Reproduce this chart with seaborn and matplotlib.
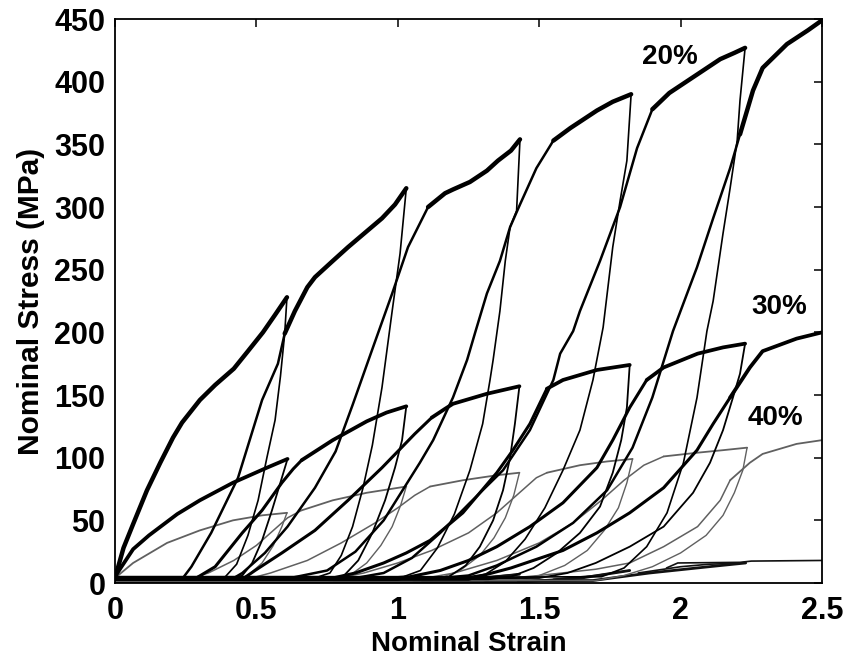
import matplotlib
matplotlib.use("Agg")
import matplotlib.pyplot as plt
import pandas as pd
import seaborn as sns

# Cyclic tensile tests: nominal strain vs nominal stress (MPa).
# Each branch is a list of (strain, stress) pairs.

# ---- 20 % filled sample ----
load_20 = [
    [(0, 5), (0.01, 12), (0.03, 28), (0.064, 47), (0.113, 74), (0.16, 96), (0.205, 116),
     (0.237, 128), (0.30, 146), (0.354, 158), (0.42, 171), (0.47, 185), (0.523, 200),
     (0.566, 214), (0.608, 228)],
    [(0.60, 199), (0.636, 217), (0.68, 236), (0.707, 244), (0.77, 257), (0.824, 268),
     (0.944, 291), (0.99, 302), (1.03, 315)],
    [(1.107, 300), (1.167, 311), (1.195, 314), (1.255, 320), (1.315, 329), (1.354, 337),
     (1.40, 345), (1.432, 354)],
    [(1.55, 353), (1.61, 363), (1.704, 377), (1.76, 384), (1.825, 390)],
    [(1.90, 378), (1.96, 391), (2.02, 400), (2.08, 409), (2.14, 418), (2.19, 423), (2.228, 427)],
    [(2.21, 358), (2.256, 393), (2.29, 411), (2.376, 430), (2.45, 441), (2.5, 449)],
]
unload_20 = [
    [(0.608, 228), (0.60, 199), (0.585, 165), (0.566, 130), (0.537, 100), (0.506, 66),
     (0.47, 38), (0.43, 15), (0.39, 5), (0.30, 4), (0.0, 4)],
    [(1.03, 315), (1.008, 263), (0.98, 217), (0.944, 156), (0.91, 110), (0.877, 76),
     (0.84, 45), (0.80, 22), (0.76, 8), (0.72, 5), (0.0, 5)],
    [(1.432, 354), (1.42, 297), (1.397, 284), (1.38, 257), (1.361, 217), (1.337, 178),
     (1.326, 162), (1.30, 127), (1.255, 90), (1.20, 55), (1.14, 28), (1.08, 10),
     (1.02, 5), (0.0, 5)],
    [(1.825, 390), (1.81, 337), (1.786, 305), (1.76, 268), (1.726, 204), (1.69, 162),
     (1.644, 122), (1.584, 90), (1.52, 60), (1.45, 35), (1.38, 17), (1.31, 7),
     (1.25, 5), (0.0, 5)],
    [(2.228, 427), (2.21, 385), (2.20, 353), (2.175, 315), (2.15, 279), (2.115, 225),
     (2.093, 201), (2.058, 148), (2.01, 96), (1.952, 56), (1.88, 29), (1.80, 12),
     (1.72, 5), (0.0, 4)],
]
reload_20 = [
    [(0.0, 4), (0.24, 4), (0.27, 13), (0.34, 40), (0.435, 84), (0.52, 146), (0.576, 175),
     (0.60, 199)],
    [(0.0, 4), (0.42, 4), (0.45, 8), (0.53, 24), (0.61, 45), (0.707, 76), (0.78, 105),
     (0.84, 142), (0.909, 186), (0.98, 231), (1.036, 268), (1.107, 300)],
    [(0.0, 4), (0.62, 4), (0.75, 10), (0.85, 25), (0.95, 50), (1.078, 96), (1.125, 114),
     (1.195, 148), (1.245, 178), (1.275, 201), (1.315, 231), (1.361, 257), (1.397, 284),
     (1.432, 302), (1.49, 331), (1.55, 353)],
    [(0.0, 4), (0.85, 4), (0.95, 8), (1.05, 20), (1.15, 40), (1.255, 64), (1.372, 90),
     (1.467, 122), (1.55, 162), (1.574, 183), (1.62, 201), (1.644, 217), (1.715, 257),
     (1.786, 300), (1.846, 347), (1.90, 378)],
    [(0.0, 4), (1.15, 4), (1.25, 6), (1.35, 14), (1.49, 29), (1.62, 48), (1.74, 74),
     (1.83, 108), (1.90, 148), (1.973, 201), (2.058, 252), (2.115, 291), (2.175, 331),
     (2.21, 358)],
]

# ---- 30 % filled sample ----
load_30 = [
    [(0, 5), (0.02, 12), (0.064, 27), (0.12, 38), (0.22, 55), (0.30, 66), (0.417, 80),
     (0.537, 92), (0.61, 99)],
    [(0.66, 98), (0.77, 114), (0.89, 129), (0.96, 136), (1.03, 141)],
    [(1.12, 132), (1.167, 139), (1.195, 143), (1.315, 151), (1.43, 157)],
    [(1.527, 155), (1.584, 162), (1.704, 170), (1.82, 174)],
    [(1.88, 162), (1.94, 172), (2.06, 183), (2.15, 188), (2.228, 191)],
    [(2.175, 148), (2.245, 172), (2.29, 185), (2.41, 195), (2.5, 200)],
]
unload_30 = [
    [(0.61, 99), (0.59, 84), (0.555, 58), (0.52, 34), (0.485, 16), (0.45, 6), (0.41, 3),
     (0.0, 3)],
    [(1.03, 141), (1.015, 114), (0.99, 92), (0.955, 66), (0.91, 40), (0.86, 18), (0.81, 6),
     (0.76, 3), (0.0, 3)],
    [(1.43, 157), (1.414, 127), (1.397, 100), (1.372, 74), (1.337, 50), (1.29, 29),
     (1.24, 14), (1.18, 5), (1.12, 3), (0.0, 3)],
    [(1.82, 174), (1.81, 140), (1.79, 114), (1.76, 88), (1.715, 61), (1.644, 40),
     (1.563, 24), (1.48, 12), (1.40, 5), (1.32, 3), (0.0, 3)],
    [(2.228, 191), (2.21, 167), (2.185, 148), (2.15, 122), (2.104, 96), (2.044, 72),
     (1.94, 45), (1.82, 29), (1.70, 16), (1.60, 8), (1.50, 4), (0.0, 3)],
]
reload_30 = [
    [(0.0, 3), (0.28, 3), (0.354, 13), (0.45, 40), (0.52, 58), (0.59, 80), (0.63, 91),
     (0.66, 98)],
    [(0.0, 3), (0.45, 3), (0.495, 10), (0.59, 24), (0.707, 42), (0.824, 66), (0.944, 92),
     (1.06, 119), (1.12, 132)],
    [(0.0, 3), (0.75, 3), (0.85, 8), (0.95, 16), (1.03, 24), (1.114, 34), (1.23, 56),
     (1.35, 88), (1.407, 106), (1.467, 127), (1.527, 155)],
    [(0.0, 3), (1.0, 3), (1.15, 10), (1.25, 18), (1.35, 29), (1.467, 45), (1.584, 64),
     (1.704, 92), (1.76, 114), (1.82, 140), (1.88, 162)],
    [(0.0, 3), (1.25, 3), (1.40, 12), (1.584, 26), (1.704, 40), (1.82, 56), (1.94, 76),
     (2.058, 106), (2.115, 127), (2.175, 148)],
]

# ---- 40 % filled sample ----
load_40 = [
    [(0, 4), (0.064, 16), (0.184, 32), (0.30, 42), (0.417, 50), (0.52, 54), (0.608, 56)],
    [(0.66, 58), (0.77, 66), (0.89, 72), (1.03, 77)],
    [(1.114, 77), (1.23, 82), (1.35, 86), (1.43, 88)],
    [(1.527, 88), (1.644, 94), (1.74, 97), (1.83, 99)],
    [(1.94, 101), (2.06, 104), (2.15, 106), (2.235, 108)],
    [(2.175, 82), (2.245, 96), (2.29, 103), (2.41, 111), (2.5, 114)],
]
unload_40 = [
    [(0.608, 56), (0.59, 45), (0.56, 30), (0.52, 16), (0.47, 6), (0.42, 2), (0.0, 2)],
    [(1.03, 77), (1.01, 62), (0.98, 45), (0.94, 30), (0.89, 16), (0.83, 6), (0.77, 2),
     (0.0, 2)],
    [(1.43, 88), (1.41, 70), (1.38, 52), (1.34, 36), (1.29, 22), (1.22, 10), (1.15, 4),
     (1.08, 2), (0.0, 2)],
    [(1.83, 99), (1.81, 80), (1.78, 60), (1.73, 42), (1.67, 26), (1.59, 14), (1.50, 6),
     (1.42, 2), (0.0, 2)],
    [(2.235, 108), (2.22, 90), (2.19, 72), (2.15, 54), (2.09, 38), (2.0, 24), (1.90, 13),
     (1.80, 6), (1.70, 2), (0.0, 2)],
]
reload_40 = [
    [(0.0, 2), (0.25, 2), (0.33, 8), (0.42, 18), (0.50, 30), (0.56, 42), (0.61, 52),
     (0.66, 58)],
    [(0.0, 2), (0.45, 2), (0.55, 8), (0.68, 18), (0.80, 32), (0.92, 48), (1.0, 60),
     (1.06, 70), (1.114, 77)],
    [(0.0, 2), (0.75, 2), (0.88, 8), (1.0, 16), (1.12, 26), (1.25, 40), (1.35, 56),
     (1.43, 72), (1.49, 84), (1.527, 88)],
    [(0.0, 2), (1.05, 2), (1.2, 8), (1.35, 18), (1.50, 32), (1.62, 48), (1.72, 66),
     (1.80, 82), (1.87, 94), (1.94, 101)],
    [(0.0, 2), (1.3, 2), (1.5, 6), (1.70, 11), (1.82, 16), (1.94, 29), (2.06, 45),
     (2.14, 66), (2.175, 82)],
]

# ---- unfilled sample (very low stress) ----
load_0 = [
    [(0, 3), (0.61, 4)],
    [(0.8, 3), (1.03, 5)],
    [(1.2, 3), (1.43, 7)],
    [(1.55, 3), (1.7, 6), (1.82, 10)],
    [(1.85, 8), (2.0, 13), (2.1, 15), (2.23, 16)],
    [(1.95, 12), (1.99, 16), (2.21, 16.5), (2.25, 17.5), (2.5, 18)],
]
unload_0 = [
    [(0.61, 4), (0.45, 1), (0.0, 1)],
    [(1.03, 5), (0.8, 1), (0.0, 1)],
    [(1.43, 7), (1.2, 1), (0.0, 1)],
    [(1.82, 10), (1.65, 4), (1.45, 1), (0.0, 1)],
    [(2.23, 16), (2.10, 13), (1.89, 8), (1.69, 2), (0.0, 1)],
]

strain_ticks = [0, 0.5, 1, 1.5, 2, 2.5]
strain_tick_labels = ["0", "0.5", "1", "1.5", "2", "2.5"]
stress_ticks = [0, 50, 100, 150, 200, 250, 300, 350, 400, 450]

curve_labels = ["20%", "30%", "40%"]
curve_label_pos = [(1.961, 420), (2.35, 220), (2.337, 132)]


def branches_frame(branches, tag):
    rows = []
    for i, seg in enumerate(branches):
        for strain, stress in seg:
            rows.append((f"{tag}{i}", strain, stress))
    return pd.DataFrame(rows, columns=["branch", "strain", "stress"])


sns.set_theme(style="white")
plt.rcParams["font.family"] = ["Liberation Sans", "DejaVu Sans"]
plt.rcParams["font.weight"] = "bold"
plt.rcParams["text.color"] = "black"
plt.rcParams["axes.labelcolor"] = "black"
plt.rcParams["axes.labelweight"] = "bold"

fig = plt.figure(figsize=(8.47, 6.59), dpi=100)
ax = fig.add_axes([0.1358, 0.1153, 0.8347, 0.8558])

layers = [
    (load_0, "#111111", 1.2),
    (unload_0, "#111111", 2.0),
    (load_40, "#606060", 1.3),
    (unload_40, "#606060", 1.0),
    (reload_40, "#606060", 1.1),
    (unload_30, "#000000", 1.3),
    (reload_30, "#000000", 2.2),
    (load_30, "#000000", 2.7),
    (unload_20, "#000000", 1.2),
    (reload_20, "#000000", 1.8),
    (load_20, "#000000", 3.2),
]
for k, (branches, color, lw) in enumerate(layers):
    df = branches_frame(branches, f"L{k}_")
    sns.lineplot(data=df, x="strain", y="stress", units="branch", estimator=None,
                 sort=False, color=color, linewidth=lw, legend=False, ax=ax,
                 solid_joinstyle="round", solid_capstyle="round")

ax.set_xlim(0, 2.5)
ax.set_ylim(0, 450)
ax.set_xticks(strain_ticks)
ax.set_xticklabels(strain_tick_labels)
ax.set_yticks(stress_ticks)
ax.tick_params(direction="in", length=6, width=1.1, top=True, right=True,
               labelsize=22, pad=7, colors="black")
ax.tick_params(axis="x", pad=9)
for lab in ax.get_xticklabels() + ax.get_yticklabels():
    lab.set_fontweight("bold")
for side in ax.spines.values():
    side.set_visible(True)
    side.set_color("black")
    side.set_linewidth(1.3)

ax.set_xlabel("Nominal Strain", fontsize=20, labelpad=4)
ax.set_ylabel("Nominal Stress (MPa)", fontsize=21.5, labelpad=7)

for text, (x, y) in zip(curve_labels, curve_label_pos):
    ax.text(x, y, text, ha="center", va="center", fontsize=20, fontweight="bold",
            color="black")

fig.savefig("out.png", dpi=100, facecolor="white")
